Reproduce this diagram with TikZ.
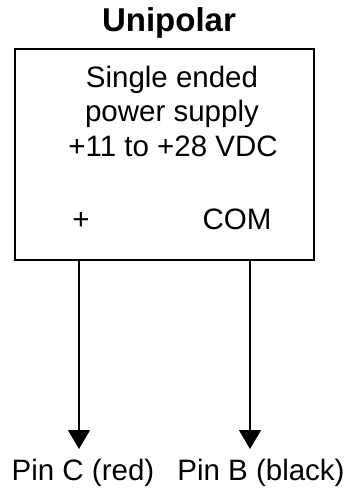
\documentclass[tikz,border=0pt]{standalone}
\usepackage{fontspec}
\setmainfont{Liberation Sans}
\usetikzlibrary{arrows.meta}
\tikzset{
  lbl/.style={anchor=base, inner sep=0pt, font=\fontsize{29.5bp}{35bp}\selectfont},
  pinwire/.style={line width=1.5bp, -{Triangle[width=22bp,length=19bp]}},
}
\begin{document}
\begin{tikzpicture}[x=1bp, y=-1bp, line join=miter]
		\useasboundingbox (0,0) rectangle (352,496);
		% Title
		\node[anchor=base, inner sep=0pt, font=\fontsize{33bp}{33bp}\selectfont\bfseries] (title) at (169,32) {Unipolar};
		% Supply box
		\node[draw, line width=2bp, minimum width=299bp, minimum height=211bp, inner sep=0pt, anchor=north west] (box) at (14,48) {};
		\node[lbl] (line1) at (172,88) {Single ended};
		\node[lbl] (line2) at (172,122) {power supply};
		\node[lbl] (line3) at (173,157) {+11 to +28 VDC};
		\node[lbl] (plus) at (81,229) {+};
		\node[lbl] (com) at (237,229) {COM};
		% Wires to the pins
		\coordinate (tipC) at (79,449);
		\coordinate (tipB) at (250,449);
		\draw[pinwire] (box.south -| tipC) -- (tipC);
		\draw[pinwire] (box.south -| tipB) -- (tipB);
		\node[lbl] (pinC) at (83,480) {Pin C (red)};
		\node[lbl] (pinB) at (261,480) {Pin B (black)};
	\end{tikzpicture}
\end{document}
